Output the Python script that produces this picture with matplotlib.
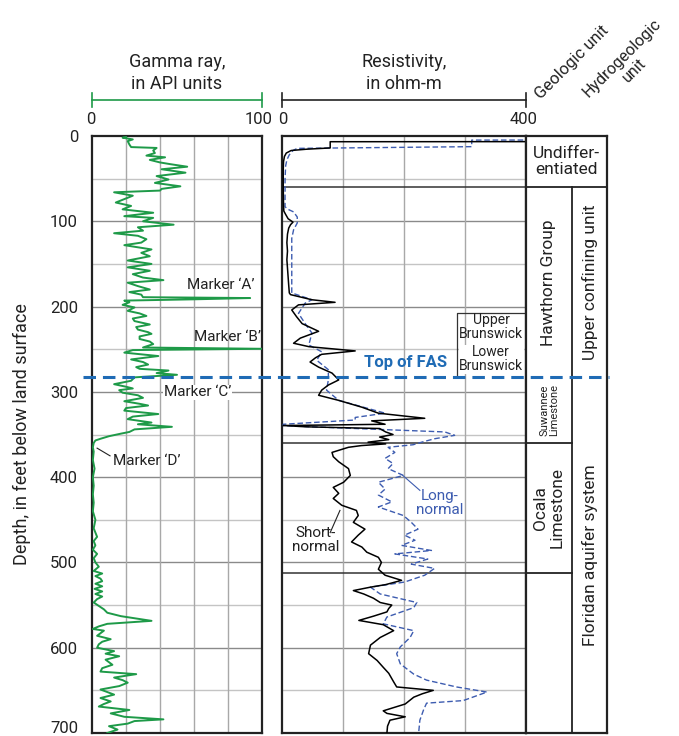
import matplotlib
matplotlib.use("Agg")
import matplotlib.pyplot as plt
from matplotlib.lines import Line2D
import matplotlib.transforms as mtransforms

plt.rcParams['font.family'] = ['Roboto', 'DejaVu Sans']
plt.rcParams['lines.scale_dashes'] = False

# ---------------- data ----------------
gamma_depth = [1, 2, 4, 6, 10, 13, 14, 17, 20, 23, 25, 28, 31, 33, 36, 39, 43, 47, 51, 55, 59, 62, 64, 66,
               70, 74, 78, 82, 86, 90, 94, 96, 100, 104, 107, 111, 114, 117, 121, 125, 128, 133, 137, 141,
               146, 150, 154, 158, 162, 166, 169, 172, 176, 180, 183, 186, 189, 190, 191.5, 193, 195, 198,
               201, 205, 208, 211, 214, 217, 221, 224, 227, 230, 232, 235, 238, 241, 244, 248, 249.5, 251,
               254, 258, 262, 265, 268, 271, 273, 275, 278, 280, 283, 287, 291, 294, 296, 298, 301, 304,
               307, 311, 314, 316, 319, 322, 326, 329, 332, 336, 338, 341, 344, 347, 349, 352, 355, 357,
               360, 365, 370, 380, 390, 400, 410, 420, 430, 440, 450, 460, 470, 475, 480, 485, 490, 495,
               500, 505, 510, 513, 516, 519, 522, 525, 528, 531, 534, 537, 540, 543, 547, 551, 555, 559,
               563, 568.5, 572, 575, 578, 580, 583, 586, 590, 593, 596, 600, 604, 607, 610, 614, 617, 620,
               624, 628, 631, 635, 638, 641, 645, 649, 652, 655, 659, 663, 666, 669, 673, 677, 681, 684,
               686, 689, 692, 696, 700]
gamma_api = [20, 18, 24, 21, 22, 23, 38, 36, 37, 32, 43, 34, 40, 46, 56, 41, 55, 38, 45, 37, 52, 41, 40, 13,
             24, 19, 14, 23, 18, 36, 19, 36, 30, 48, 27, 30, 13, 27, 32, 29, 19, 35, 29, 34,
             21, 35, 21, 34, 24, 30, 42, 21, 27, 34, 22, 29, 30, 93, 60, 19, 22, 18,
             25, 21, 28, 32, 24, 25, 34, 26, 27, 33, 35, 28, 28, 34, 36, 30, 100, 24,
             19, 39, 23, 30, 33, 26, 28, 45, 38, 50, 25, 23, 13, 20, 24, 16, 18, 27,
             30, 19, 28, 33, 20, 19, 39, 24, 21, 35, 27, 47, 25, 22, 17, 10, 5, 2,
             1, 0.5, 1, 0.5, 1.5, 0.5, 1, 0.5, 1, 0.5, 2, 1, 3, 1, 2, 0.5, 3, 1,
             2, 4, 1, 6, 2, 5, 6, 2, 6, 1.5, 6, 2, 6, 3, 1, 4, 7, 9,
             17, 35, 9, 4, 0.5, 7, 5, 3, 11, 6, 4, 3, 13, 8, 16, 8, 10, 12,
             6, 5, 26, 13, 18, 21, 16, 5, 9, 13, 5, 11, 7, 4, 22, 11, 19, 42,
             25, 21, 10, 15, 9]

short_depth = [6.6, 6.7, 14, 15.5, 17, 20, 24, 30, 40, 60, 80, 88, 92, 97, 101, 104, 108, 115, 125, 135,
               145, 155, 165, 175, 184, 186, 192, 195, 198, 204, 212, 220, 229, 237, 243, 247, 252, 256,
               260, 265, 271, 278, 286, 292, 298, 304, 310, 318, 325, 331, 334, 338, 339.5, 341, 343, 347,
               350, 353, 356, 359, 361, 363, 365, 371, 376, 382, 390, 398, 406, 412, 419, 425, 433, 439,
               445, 453, 461, 468, 476, 482, 488, 494, 500, 508, 515, 521, 526, 529, 533, 537, 542, 547,
               550, 554, 558, 563, 568, 573, 580, 588, 597, 607, 615, 623, 630, 640, 646, 650, 654, 658,
               666, 674, 677, 681, 685, 692, 700]
short_ohm = [450, 79, 79, 40, 15, 7, 4, 2.5, 2, 2, 2.5, 3, 6, 10, 18, 14, 11, 9, 8, 9,
             8, 9, 10, 11, 12, 14, 49, 87, 27, 16, 24, 33, 60, 30, 19, 44, 120, 65,
             55, 46, 60, 82, 93, 76, 65, 60, 93, 131, 158, 234, 147, 169, 2, 40, 160, 170,
             182, 160, 175, 141, 170, 130, 109, 82, 84, 93, 109, 112, 101, 84, 93, 84, 98, 122,
             125, 117, 136, 125, 114, 131, 139, 158, 163, 158, 169, 196, 170, 145, 117, 134, 150, 161,
             180, 175, 172, 150, 126, 166, 183, 161, 145, 142, 156, 166, 175, 183, 188, 248, 230, 216,
             202, 166, 172, 202, 177, 173, 172]

long_depth = [4.7, 4.8, 12.5, 14.5, 17, 22, 28, 35, 50, 70, 83, 86, 89, 95, 102, 110, 120, 140, 160, 175,
              184, 192, 196, 208, 220, 231, 245, 253, 263, 274, 286, 298, 310, 325, 330, 333, 338, 339.5,
              341, 347, 351, 355, 359, 362, 365, 371, 378, 384, 390, 398, 406, 414, 421, 429, 435, 445,
              453, 461, 468, 474, 480, 486, 490, 496, 502, 507, 515, 523, 529, 537, 547, 553, 564, 572,
              580, 588, 599, 607, 619, 631, 638, 646, 652, 662, 665, 673, 685, 700]
long_ohm = [450, 311, 311, 25, 18, 12, 8, 6, 5, 5, 5, 10, 19, 25, 25, 19, 16, 16, 16, 16,
            16, 49, 38, 27, 38, 49, 44, 65, 57, 76, 76, 73, 93, 169, 120, 120, 2, 2,
            49, 267, 283, 250, 229, 215, 174, 185, 169, 182, 174, 199, 158, 169, 158, 180, 158, 199,
            212, 223, 201, 218, 196, 245, 185, 239, 212, 250, 234, 201, 145, 161, 221, 216, 172, 166,
            216, 210, 194, 188, 194, 216, 237, 286, 336, 297, 237, 232, 226, 224]

depth_ticks = [0, 100, 200, 300, 400, 500, 600, 700]
gamma_grid = [20, 40, 60, 80]
res_grid = [100, 200, 300]

geo_units = ["Undiffer-\nentiated", "Hawthorn Group", "Suwannee\nLimestone", "Ocala\nLimestone"]
geo_bounds = [(0, 60), (60, 283), (283, 360), (360, 512)]
hydro_units = ["Upper confining unit", "Floridan aquifer system"]
hydro_bounds = [(60, 283), (283, 700)]
top_fas = 283

markers = ["Marker \u2018A\u2019", "Marker \u2018B\u2019", "Marker \u2018C\u2019", "Marker \u2018D\u2019"]
marker_pos = [(76, 175), (80, 236), (62, 300.5), (32, 381)]

# ---------------- layout ----------------
W, H = 679, 736
fig = plt.figure(figsize=(W / 100, H / 100), dpi=100)

def fx(x):
    return x / W

def fy(y):
    return 1 - y / H

TOP, BOT = 136, 733
GREEN = '#1e9a48'
BLUE_FAS = '#1f6bb5'
BLUE_LN = '#3d5cb0'
SPINE = '#222222'
TXT = '#222222'

def frame(ax):
    for s in ax.spines.values():
        s.set_linewidth(1.6)
        s.set_color(SPINE)

def depth_grid(ax):
    for d in range(50, 700, 50):
        if d % 100 == 0:
            ax.axhline(d, color='#8a8a8a', lw=1.0, zorder=1)
        else:
            ax.axhline(d, color='#c4c4c4', lw=1.0, zorder=1)

# Gamma axes
axg = fig.add_axes([fx(92), fy(BOT), fx(262) - fx(92), fy(TOP) - fy(BOT)])
axg.set_xlim(0, 100)
axg.set_ylim(700, 0)
depth_grid(axg)
for g in gamma_grid:
    axg.axvline(g, color='#a8a8a8', lw=1.0, zorder=1)
axg.plot(gamma_api, gamma_depth, color=GREEN, lw=1.4, zorder=3)
axg.set_xticks([])
axg.set_yticks(depth_ticks)
axg.tick_params(axis='y', length=0, pad=10, labelsize=12, labelcolor=TXT)
lbls = axg.get_yticklabels()
lbls[-1].set_transform(lbls[-1].get_transform() +
                       mtransforms.ScaledTranslation(0, 6 / 100, fig.dpi_scale_trans))
axg.set_ylabel("Depth, in feet below land surface", fontsize=13, labelpad=14, color=TXT)
frame(axg)

for (lab, (xv, dv)) in zip(markers, marker_pos):
    axg.text(xv, dv, lab, ha='center', va='center', fontsize=11, color=TXT, zorder=5,
             bbox=dict(facecolor='white', edgecolor='none', pad=0.5) if 'C' in lab else None)
axg.plot([3, 10.6], [366, 375], color=TXT, lw=0.8, zorder=5)

# Resistivity axes
axr = fig.add_axes([fx(282), fy(BOT), fx(526) - fx(282), fy(TOP) - fy(BOT)])
axr.set_xlim(0, 400)
axr.set_ylim(700, 0)
depth_grid(axr)
for r in res_grid:
    axr.axvline(r, color='#a8a8a8', lw=1.0, zorder=1)
for d in [60, 360, 512]:
    axr.axhline(d, color='#333333', lw=1.1, zorder=2)
axr.plot(long_ohm, long_depth, color=BLUE_LN, lw=1.0, dashes=(4, 2), zorder=3)
axr.plot(short_ohm, short_depth, color='black', lw=1.1, zorder=4)
axr.set_xticks([])
axr.set_yticks([])
frame(axr)

# Brunswick box
axr.plot([287, 287, 400], [283, 207, 207], color='#333333', lw=0.9, zorder=5)
axr.text(343, 224, "Upper\nBrunswick", ha='center', va='center', fontsize=10, color=TXT,
         linespacing=1.0, zorder=6)
axr.text(343, 262, "Lower\nBrunswick", ha='center', va='center', fontsize=10, color=TXT,
         linespacing=1.0, zorder=6, bbox=dict(facecolor='white', edgecolor='none', pad=0.3))
axr.text(202, 265, "Top of FAS", ha='center', va='center', fontsize=12, fontweight='bold',
         color=BLUE_FAS, zorder=6)
axr.text(259, 430, "Long-\nnormal", ha='center', va='center', fontsize=11, color=BLUE_LN,
         linespacing=1.0, zorder=6)
axr.plot([198, 226], [398, 415.5], color=BLUE_LN, lw=0.8, zorder=6)
axr.text(55, 474, "Short-\nnormal", ha='center', va='center', fontsize=11, color=TXT,
         linespacing=1.0, zorder=6)
axr.plot([95, 79], [439, 465], color=TXT, lw=0.8, zorder=6)

# Unit columns
axu = fig.add_axes([fx(526), fy(BOT), fx(607) - fx(526), fy(TOP) - fy(BOT)])
axu.set_xlim(0, 81)
axu.set_ylim(700, 0)
axu.set_xticks([])
axu.set_yticks([])
frame(axu)
axu.axhline(60, color=SPINE, lw=1.3)
axu.plot([46, 46], [60, 700], color=SPINE, lw=1.3)
for (a, b) in geo_bounds[2:]:
    axu.plot([0, 46], [b, b], color=SPINE, lw=1.3)
axu.text(40.5, 30, geo_units[0], ha='center', va='center', fontsize=12.5, linespacing=1.1, color=TXT)
axu.text(23, 171.5, geo_units[1], ha='center', va='center', rotation=90, fontsize=12.5, color=TXT)
axu.text(23, 321.5, geo_units[2], ha='center', va='center', rotation=90, fontsize=8,
         linespacing=1.0, color=TXT)
axu.text(23, 436, geo_units[3], ha='center', va='center', rotation=90, fontsize=12.5,
         linespacing=1.1, color=TXT)
axu.text(64, 171.5, hydro_units[0], ha='center', va='center', rotation=90, fontsize=12.5, color=TXT)
axu.text(64, 491.5, hydro_units[1], ha='center', va='center', rotation=90, fontsize=12.5, color=TXT)

# Top of FAS dashed line across figure
y_fas = TOP + (BOT - TOP) * top_fas / 700
fig.add_artist(Line2D([fx(83), fx(609)], [fy(y_fas), fy(y_fas)], color=BLUE_FAS, lw=2.2,
                      dashes=(9, 5), zorder=10))

# Header text
fig.text(fx(177), fy(62), "Gamma ray,", ha='center', va='center', fontsize=13, color=TXT)
fig.text(fx(177), fy(84), "in API units", ha='center', va='center', fontsize=13, color=TXT)
fig.add_artist(Line2D([fx(92), fx(262)], [fy(100), fy(100)], color=GREEN, lw=1.2))
for xv in (92, 262):
    fig.add_artist(Line2D([fx(xv), fx(xv)], [fy(93), fy(107)], color=GREEN, lw=1.2))
fig.text(fx(91), fy(120), "0", ha='center', va='center', fontsize=12, color=TXT)
fig.text(fx(259), fy(120), "100", ha='center', va='center', fontsize=12, color=TXT)

fig.text(fx(404), fy(62), "Resistivity,", ha='center', va='center', fontsize=13, color=TXT)
fig.text(fx(404), fy(84), "in ohm-m", ha='center', va='center', fontsize=13, color=TXT)
fig.add_artist(Line2D([fx(282), fx(526)], [fy(100), fy(100)], color='#222222', lw=1.2))
for xv in (282, 526):
    fig.add_artist(Line2D([fx(xv), fx(xv)], [fy(93), fy(107)], color='#222222', lw=1.2))
fig.text(fx(283), fy(120), "0", ha='center', va='center', fontsize=12, color=TXT)
fig.text(fx(524), fy(120), "400", ha='center', va='center', fontsize=12, color=TXT)

fig.text(fx(543), fy(102), "Geologic unit", ha='left', va='bottom', rotation=45,
         rotation_mode='anchor', fontsize=12, color=TXT)
fig.text(fx(628), fy(64), "Hydrogeologic\nunit", ha='center', va='center', rotation=45,
         rotation_mode='anchor', fontsize=11.5, linespacing=1.15, color=TXT)

fig.savefig("out.png", dpi=100)
